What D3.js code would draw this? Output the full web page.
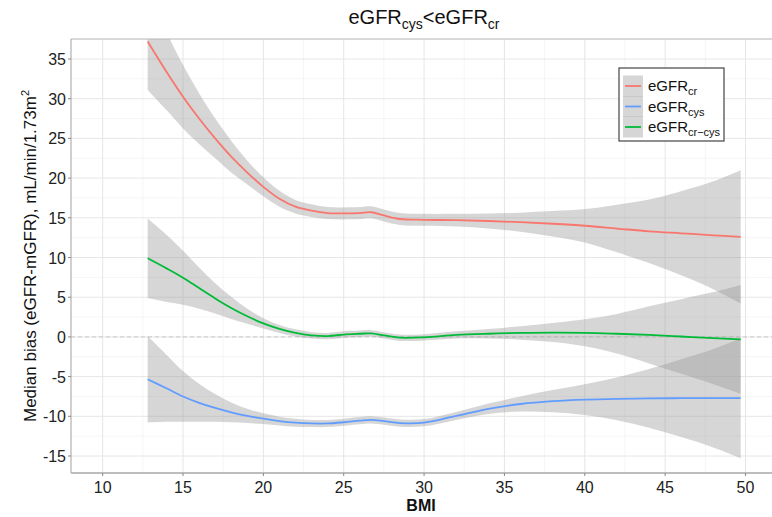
<!DOCTYPE html>
<html>
<head>
<meta charset="utf-8">
<script src="https://cdn.jsdelivr.net/npm/d3@7"></script>
<style>
  body { margin: 0; background: #fff; }
  text { font-family: "Liberation Sans", Arial, sans-serif; }
</style>
</head>
<body>
<svg id="chart" width="772" height="517"></svg>
<script>
// data -------------------------------------------------------------------
var bmi    = [12.8, 14, 15, 16, 17, 18, 19, 20, 21, 22, 23, 24, 25, 26, 26.7, 27.5, 28.5, 30, 32, 34, 36, 38, 40, 42, 44, 46, 48, 49.7];

var crMid  = [37.2, 33.3, 30.25, 27.5, 25.0, 22.7, 20.7, 18.9, 17.4, 16.4, 15.9, 15.6, 15.55, 15.6, 15.7, 15.3, 14.85, 14.75, 14.7, 14.6, 14.45, 14.25, 14.0, 13.65, 13.3, 13.05, 12.8, 12.6];
var crLo   = [31.1, 28.5, 26.25, 24.3, 22.5, 20.7, 19.2, 17.7, 16.4, 15.55, 15.1, 14.85, 14.8, 14.85, 14.95, 14.55, 14.1, 14.0, 13.9, 13.65, 13.25, 12.65, 11.9, 10.65, 9.3, 7.75, 6.0, 4.2];
var crHi   = [44.2, 38.3, 34.25, 30.7, 27.5, 24.7, 22.2, 20.1, 18.4, 17.25, 16.7, 16.35, 16.3, 16.35, 16.45, 16.05, 15.6, 15.5, 15.5, 15.55, 15.65, 15.85, 16.1, 16.65, 17.3, 18.35, 19.6, 21.0];

var cysMid = [-5.34, -6.5, -7.5, -8.3, -8.95, -9.5, -9.95, -10.3, -10.6, -10.8, -10.9, -10.9, -10.75, -10.55, -10.45, -10.6, -10.85, -10.8, -9.95, -9.05, -8.45, -8.1, -7.9, -7.8, -7.75, -7.72, -7.72, -7.72];
var cysLo  = [-10.79, -10.7, -10.7, -10.7, -10.7, -10.75, -10.85, -10.98, -11.15, -11.3, -11.35, -11.35, -11.2, -11.0, -10.9, -11.05, -11.3, -11.25, -10.45, -9.7, -9.4, -9.5, -9.85, -10.5, -11.45, -12.62, -13.92, -15.27];
var cysHi  = [0.11, -2.3, -4.3, -5.9, -7.2, -8.25, -9.05, -9.62, -10.05, -10.3, -10.45, -10.45, -10.3, -10.1, -10.0, -10.15, -10.4, -10.35, -9.45, -8.4, -7.5, -6.7, -5.95, -5.1, -4.05, -2.82, -1.52, -0.17];

var ccMid  = [9.9, 8.6, 7.45, 6.15, 4.85, 3.65, 2.6, 1.7, 1.0, 0.5, 0.2, 0.1, 0.3, 0.4, 0.45, 0.2, -0.1, -0.05, 0.25, 0.4, 0.5, 0.55, 0.52, 0.4, 0.25, 0.05, -0.15, -0.3];
var ccLo   = [4.9, 4.4, 4.05, 3.55, 2.95, 2.25, 1.65, 1.05, 0.5, 0.05, -0.2, -0.3, -0.1, 0.0, 0.05, -0.2, -0.5, -0.45, -0.2, -0.2, -0.35, -0.65, -1.18, -2.1, -3.35, -4.65, -5.95, -7.15];
var ccHi   = [14.9, 12.8, 10.85, 8.75, 6.75, 5.05, 3.55, 2.35, 1.5, 0.95, 0.6, 0.5, 0.7, 0.8, 0.85, 0.6, 0.3, 0.35, 0.7, 1.0, 1.35, 1.75, 2.22, 2.9, 3.85, 4.75, 5.65, 6.55];

var xTicks = [10, 15, 20, 25, 30, 35, 40, 45, 50];
var yTicks = [-15, -10, -5, 0, 5, 10, 15, 20, 25, 30, 35];

var series = [
  {name: "cr",     sub: "cr",      color: "#F8766D", mid: crMid,  lo: crLo,  hi: crHi},
  {name: "cys",    sub: "cys",     color: "#619CFF", mid: cysMid, lo: cysLo, hi: cysHi},
  {name: "cr-cys", sub: "cr\u2212cys", color: "#00BA38", mid: ccMid,  lo: ccLo,  hi: ccHi}
];

//layout----------------------------------------------------------------------
var svg = d3.select("#chart");
var pLeft = 71, pRight = 772, pTop = 39, pBottom = 473;

var x = d3.scaleLinear().domain([8.03, 51.65]).range([pLeft, pRight]);
var y = d3.scaleLinear().domain([-17.14, 37.52]).range([pBottom, pTop]);

svg.append("defs").append("clipPath").attr("id", "panel")
  .append("rect").attr("x", pLeft).attr("y", pTop)
  .attr("width", pRight - pLeft).attr("height", pBottom - pTop);

//grid
var minorX = d3.range(7.5, 52, 2.5).filter(function(v) { return v % 5 != 0 && x(v) > pLeft; });
var minorY = d3.range(-17.5, 38, 2.5).filter(function(v) { return v % 5 != 0 && y(v) > pTop && y(v) < pBottom; });

var grid = svg.append("g");
grid.selectAll(".mx").data(minorX).enter().append("line")
  .attr("x1", x).attr("x2", x).attr("y1", pTop).attr("y2", pBottom)
  .style("stroke", "#f2f2f2").style("stroke-width", 0.8);
grid.selectAll(".my").data(minorY).enter().append("line")
  .attr("y1", y).attr("y2", y).attr("x1", pLeft).attr("x2", pRight)
  .style("stroke", "#f2f2f2").style("stroke-width", 0.8);
grid.selectAll(".Mx").data(xTicks).enter().append("line")
  .attr("x1", x).attr("x2", x).attr("y1", pTop).attr("y2", pBottom)
  .style("stroke", "#e6e6e6").style("stroke-width", 1);
grid.selectAll(".My").data(yTicks).enter().append("line")
  .attr("y1", y).attr("y2", y).attr("x1", pLeft).attr("x2", pRight)
  .style("stroke", "#e6e6e6").style("stroke-width", 1);

//zero reference
svg.append("line")
  .attr("x1", pLeft).attr("x2", pRight).attr("y1", y(0)).attr("y2", y(0))
  .style("stroke", "#c8c8c8").style("stroke-width", 1)
  .style("stroke-dasharray", "4,3");

//ribbons and lines
var plot = svg.append("g").attr("clip-path", "url(#panel)");

var area = d3.area()
  .x(function(d) { return x(d.x); })
  .y0(function(d) { return y(d.lo); })
  .y1(function(d) { return y(d.hi); })
  .curve(d3.curveCatmullRom);

var line = d3.line()
  .x(function(d) { return x(d.x); })
  .y(function(d) { return y(d.mid); })
  .curve(d3.curveCatmullRom);

function rows(s) {
  return bmi.map(function(b, i) {
    return {x: b, mid: s.mid[i], lo: s.lo[i], hi: s.hi[i]};
  });
}

series.forEach(function(s) {
  plot.append("path").datum(rows(s))
    .attr("d", area)
    .style("fill", "#999999").style("fill-opacity", 0.4);
});
series.forEach(function(s) {
  plot.append("path").datum(rows(s))
    .attr("d", line)
    .style("fill", "none").style("stroke", s.color).style("stroke-width", 1.8);
});

//axes / border
svg.append("line").attr("x1", pLeft).attr("x2", pRight).attr("y1", pTop).attr("y2", pTop)
  .style("stroke", "#b8b8b8").style("stroke-width", 1.2);
svg.append("line").attr("x1", pLeft).attr("x2", pLeft).attr("y1", pTop).attr("y2", pBottom)
  .style("stroke", "#b0b0b0").style("stroke-width", 1.2);
svg.append("line").attr("x1", pLeft).attr("x2", pRight).attr("y1", pBottom).attr("y2", pBottom)
  .style("stroke", "#bdbdbd").style("stroke-width", 2);

var yAxis = svg.append("g");
yAxis.selectAll("line").data(yTicks).enter().append("line")
  .attr("x1", pLeft - 3).attr("x2", pLeft).attr("y1", y).attr("y2", y)
  .style("stroke", "#888");
yAxis.selectAll("text").data(yTicks).enter().append("text")
  .attr("x", pLeft - 5).attr("y", function(d) { return y(d) + 6; })
  .attr("text-anchor", "end")
  .style("font-size", "16px").style("fill", "#222")
  .text(function(d) { return d; });

var xAxis = svg.append("g");
xAxis.selectAll("line").data(xTicks).enter().append("line")
  .attr("x1", x).attr("x2", x).attr("y1", pBottom).attr("y2", pBottom + 3)
  .style("stroke", "#888");
xAxis.selectAll("text").data(xTicks).enter().append("text")
  .attr("x", x).attr("y", pBottom + 20)
  .attr("text-anchor", "middle")
  .style("font-size", "16px").style("fill", "#222")
  .text(function(d) { return d; });

//titles
svg.append("text").attr("x", 421).attr("y", 511)
  .attr("text-anchor", "middle")
  .style("font-size", "16px").style("font-weight", "bold").style("fill", "#111")
  .text("BMI");

var ylab = svg.append("text")
  .attr("transform", "translate(36," + ((pTop + pBottom) / 2) + ") rotate(-90)")
  .attr("text-anchor", "middle")
  .style("font-size", "17px").style("fill", "#111");
ylab.append("tspan").text("Median bias (eGFR-mGFR), mL/min/1.73m");
ylab.append("tspan").attr("dy", -7).style("font-size", "11px").text("2");

var title = svg.append("text").attr("x", 424).attr("y", 24)
  .attr("text-anchor", "middle")
  .style("font-size", "20px").style("fill", "#111");
title.append("tspan").text("eGFR");
title.append("tspan").attr("dy", 5).style("font-size", "14px").text("cys");
title.append("tspan").attr("dy", -5).text("<eGFR");
title.append("tspan").attr("dy", 5).style("font-size", "14px").text("cr");

//legend
var legend = svg.append("g");
legend.append("rect").attr("x", 619).attr("y", 68).attr("width", 105).attr("height", 73)
  .style("fill", "#fff").style("stroke", "#444").style("stroke-width", 1.2);

var keyY = d3.scalePoint().domain(series.map(function(s) { return s.name; }))
  .range([86, 127]);

var keys = legend.selectAll(".key").data(series).enter().append("g");
keys.append("rect")
  .attr("x", 623).attr("width", 20)
  .attr("y", function(d) { return keyY(d.name) - 10.5; }).attr("height", 21)
  .style("fill", "#999999").style("fill-opacity", 0.4);
keys.append("line")
  .attr("x1", 625).attr("x2", 641)
  .attr("y1", function(d) { return keyY(d.name); }).attr("y2", function(d) { return keyY(d.name); })
  .style("stroke", function(d) { return d.color; }).style("stroke-width", 1.8);
var kt = keys.append("text")
  .attr("x", 648).attr("y", function(d) { return keyY(d.name) + 5; })
  .style("font-size", "15px").style("fill", "#111");
kt.append("tspan").text("eGFR");
kt.append("tspan").attr("dy", 4).style("font-size", "11px").text(function(d) { return d.sub; });
</script>
</body>
</html>
